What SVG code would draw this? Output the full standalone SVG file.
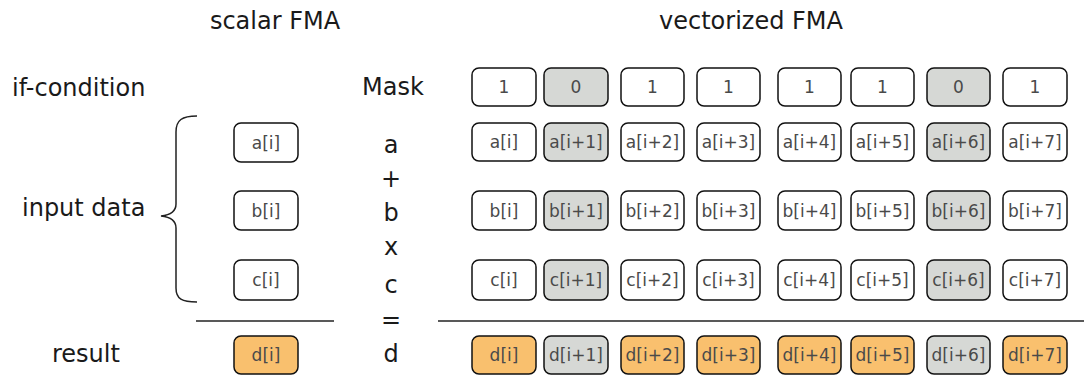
<svg xmlns="http://www.w3.org/2000/svg" width="1084" height="375" viewBox="0 0 1084 375">
  <style>
    .title { font-family: "DejaVu Sans", "Liberation Sans", sans-serif; font-size: 24px; fill: #1a1a1a; }
    .label { font-family: "DejaVu Sans", "Liberation Sans", sans-serif; font-size: 24px; fill: #1a1a1a; }
    .cell rect { stroke: #111; stroke-width: 1.5; }
    .cell text { font-family: "DejaVu Sans", "Liberation Sans", sans-serif; font-size: 17px; fill: #4a4a4a; text-anchor: middle; dominant-baseline: central; }
    .on rect { fill: #ffffff; }
    .off rect { fill: #d6d8d5; }
    .res rect { fill: #f9c06e; }
    .rule { stroke: #222; stroke-width: 1.5; fill: none; }
  </style>

  <!-- headings -->
  <text class="title" x="275" y="29" text-anchor="middle">scalar FMA</text>
  <text class="title" x="751" y="29" text-anchor="middle">vectorized FMA</text>

  <!-- row labels -->
  <text class="label" x="12" y="96">if-condition</text>
  <text class="label" x="22" y="216">input data</text>
  <text class="label" x="52" y="362">result</text>

  <!-- operation column -->
  <g text-anchor="middle">
    <text class="label" x="393" y="95" text-anchor="middle">Mask</text>
    <text class="label" x="391" y="153" text-anchor="middle">a</text>
    <text class="label" x="391" y="187" text-anchor="middle">+</text>
    <text class="label" x="391" y="221" text-anchor="middle">b</text>
    <text class="label" x="391" y="255" text-anchor="middle">x</text>
    <text class="label" x="391" y="293" text-anchor="middle">c</text>
    <text class="label" x="391" y="328" text-anchor="middle">=</text>
    <text class="label" x="391" y="362" text-anchor="middle">d</text>
  </g>

  <!-- brace and separator rules -->
  <g id="connectors">
    <path class="rule" d="M197,116 C182,116 176,120 176,132 L176,204 C176,212 170,215 161,216 C170,217 176,220 176,228 L176,288 C176,299 182,302 197,302"/>
    <line class="rule" x1="196" y1="321" x2="334" y2="321"/>
    <line class="rule" x1="438" y1="321" x2="1084" y2="321"/>
  </g>

  <!-- scalar column -->
  <g id="scalar-a" class="cell on"><rect x="234" y="123" width="64" height="39" rx="7"/><text x="266" y="142.5">a[i]</text></g>
  <g id="scalar-b" class="cell on"><rect x="234" y="191" width="64" height="39" rx="7"/><text x="266" y="210.5">b[i]</text></g>
  <g id="scalar-c" class="cell on"><rect x="234" y="260" width="64" height="40" rx="7"/><text x="266" y="280">c[i]</text></g>
  <g id="scalar-d" class="cell res"><rect x="234" y="336" width="64" height="38" rx="7"/><text x="266" y="355">d[i]</text></g>

  <!-- mask row -->
  <g id="mask-0" class="cell on"><rect x="472" y="68" width="64" height="38" rx="7"/><text x="504" y="87">1</text></g>
  <g id="mask-1" class="cell off"><rect x="544" y="68" width="64" height="38" rx="7"/><text x="576" y="87">0</text></g>
  <g id="mask-2" class="cell on"><rect x="621" y="68" width="63" height="38" rx="7"/><text x="652.5" y="87">1</text></g>
  <g id="mask-3" class="cell on"><rect x="697" y="68" width="63" height="38" rx="7"/><text x="728.5" y="87">1</text></g>
  <g id="mask-4" class="cell on"><rect x="778" y="68" width="63" height="38" rx="7"/><text x="809.5" y="87">1</text></g>
  <g id="mask-5" class="cell on"><rect x="851" y="68" width="63" height="38" rx="7"/><text x="882.5" y="87">1</text></g>
  <g id="mask-6" class="cell off"><rect x="927" y="68" width="63" height="38" rx="7"/><text x="958.5" y="87">0</text></g>
  <g id="mask-7" class="cell on"><rect x="1003" y="68" width="64" height="38" rx="7"/><text x="1035" y="87">1</text></g>

  <!-- a row -->
  <g id="a-0" class="cell on"><rect x="472" y="123" width="64" height="38" rx="7"/><text x="504" y="142">a[i]</text></g>
  <g id="a-1" class="cell off"><rect x="544" y="123" width="64" height="38" rx="7"/><text x="576" y="142">a[i+1]</text></g>
  <g id="a-2" class="cell on"><rect x="621" y="123" width="63" height="38" rx="7"/><text x="652.5" y="142">a[i+2]</text></g>
  <g id="a-3" class="cell on"><rect x="697" y="123" width="63" height="38" rx="7"/><text x="728.5" y="142">a[i+3]</text></g>
  <g id="a-4" class="cell on"><rect x="778" y="123" width="63" height="38" rx="7"/><text x="809.5" y="142">a[i+4]</text></g>
  <g id="a-5" class="cell on"><rect x="851" y="123" width="63" height="38" rx="7"/><text x="882.5" y="142">a[i+5]</text></g>
  <g id="a-6" class="cell off"><rect x="927" y="123" width="63" height="38" rx="7"/><text x="958.5" y="142">a[i+6]</text></g>
  <g id="a-7" class="cell on"><rect x="1003" y="123" width="64" height="38" rx="7"/><text x="1035" y="142">a[i+7]</text></g>

  <!-- b row -->
  <g id="b-0" class="cell on"><rect x="472" y="191" width="64" height="39" rx="7"/><text x="504" y="210.5">b[i]</text></g>
  <g id="b-1" class="cell off"><rect x="544" y="191" width="64" height="39" rx="7"/><text x="576" y="210.5">b[i+1]</text></g>
  <g id="b-2" class="cell on"><rect x="621" y="191" width="63" height="39" rx="7"/><text x="652.5" y="210.5">b[i+2]</text></g>
  <g id="b-3" class="cell on"><rect x="697" y="191" width="63" height="39" rx="7"/><text x="728.5" y="210.5">b[i+3]</text></g>
  <g id="b-4" class="cell on"><rect x="778" y="191" width="63" height="39" rx="7"/><text x="809.5" y="210.5">b[i+4]</text></g>
  <g id="b-5" class="cell on"><rect x="851" y="191" width="63" height="39" rx="7"/><text x="882.5" y="210.5">b[i+5]</text></g>
  <g id="b-6" class="cell off"><rect x="927" y="191" width="63" height="39" rx="7"/><text x="958.5" y="210.5">b[i+6]</text></g>
  <g id="b-7" class="cell on"><rect x="1003" y="191" width="64" height="39" rx="7"/><text x="1035" y="210.5">b[i+7]</text></g>

  <!-- c row -->
  <g id="c-0" class="cell on"><rect x="472" y="260" width="64" height="40" rx="7"/><text x="504" y="280">c[i]</text></g>
  <g id="c-1" class="cell off"><rect x="544" y="260" width="64" height="40" rx="7"/><text x="576" y="280">c[i+1]</text></g>
  <g id="c-2" class="cell on"><rect x="621" y="260" width="63" height="40" rx="7"/><text x="652.5" y="280">c[i+2]</text></g>
  <g id="c-3" class="cell on"><rect x="697" y="260" width="63" height="40" rx="7"/><text x="728.5" y="280">c[i+3]</text></g>
  <g id="c-4" class="cell on"><rect x="778" y="260" width="63" height="40" rx="7"/><text x="809.5" y="280">c[i+4]</text></g>
  <g id="c-5" class="cell on"><rect x="851" y="260" width="63" height="40" rx="7"/><text x="882.5" y="280">c[i+5]</text></g>
  <g id="c-6" class="cell off"><rect x="927" y="260" width="63" height="40" rx="7"/><text x="958.5" y="280">c[i+6]</text></g>
  <g id="c-7" class="cell on"><rect x="1003" y="260" width="64" height="40" rx="7"/><text x="1035" y="280">c[i+7]</text></g>

  <!-- result row -->
  <g id="d-0" class="cell res"><rect x="472" y="336" width="64" height="38" rx="7"/><text x="504" y="355">d[i]</text></g>
  <g id="d-1" class="cell off"><rect x="544" y="336" width="64" height="38" rx="7"/><text x="576" y="355">d[i+1]</text></g>
  <g id="d-2" class="cell res"><rect x="621" y="336" width="63" height="38" rx="7"/><text x="652.5" y="355">d[i+2]</text></g>
  <g id="d-3" class="cell res"><rect x="697" y="336" width="63" height="38" rx="7"/><text x="728.5" y="355">d[i+3]</text></g>
  <g id="d-4" class="cell res"><rect x="778" y="336" width="63" height="38" rx="7"/><text x="809.5" y="355">d[i+4]</text></g>
  <g id="d-5" class="cell res"><rect x="851" y="336" width="63" height="38" rx="7"/><text x="882.5" y="355">d[i+5]</text></g>
  <g id="d-6" class="cell off"><rect x="927" y="336" width="63" height="38" rx="7"/><text x="958.5" y="355">d[i+6]</text></g>
  <g id="d-7" class="cell res"><rect x="1003" y="336" width="64" height="38" rx="7"/><text x="1035" y="355">d[i+7]</text></g>
</svg>
